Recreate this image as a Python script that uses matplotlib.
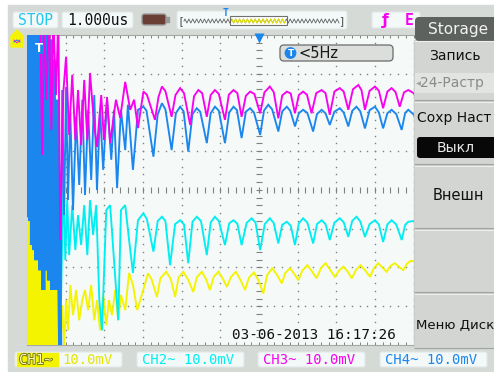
import numpy as np
import matplotlib.pyplot as plt
import matplotlib.patheffects as pe
from matplotlib.patches import Rectangle, FancyBboxPatch, Polygon, Circle

# Scope settings: 1 us/div time base, 10 mV/div on all channels, 12 x 8 divisions
channel_names = ["CH1", "CH2", "CH3", "CH4"]
channel_scale = ["10.0mV", "10.0mV", "10.0mV", "10.0mV"]
timebase = "1.000us"
trigger_freq = "<5Hz"
timestamp = "03-06-2013 16:17:26"

# Captured traces as (time in us, voltage in mV); values outside +-40 mV run off screen
ch1_trace = [
    (-6.00, -7.0), (-5.97, -42), (-5.94, -7.8), (-5.92, -42), (-5.89, -9.0), (-5.87, -42),
    (-5.84, -11.6), (-5.81, -42), (-5.79, -12.9), (-5.76, -42), (-5.74, -14.2), (-5.71, -42),
    (-5.68, -15.5), (-5.66, -42), (-5.63, -18.1), (-5.61, -42), (-5.58, -19.4), (-5.56, -42),
    (-5.50, -20.7), (-5.45, -42), (-5.40, -22.0), (-5.35, -42), (-5.30, -24.5), (-5.25, -42),
    (-5.19, -25.8), (-5.14, -42), (-5.09, -29.7), (-5.04, -40), (-4.99, -28.4), (-4.94, -36.2),
    (-4.88, -24.5), (-4.81, -32.3), (-4.73, -25.8), (-4.65, -33.6), (-4.57, -28.4), (-4.50, -25.8),
    (-4.42, -31.0), (-4.34, -24.5), (-4.26, -33.6), (-4.19, -28.4), (-4.11, -36.2), (-4.03, -27.1),
    (-3.95, -34.9), (-3.88, -28.4), (-3.80, -32.3), (-3.72, -25.8), (-3.64, -33.6), (-3.57, -27.1),
    (-3.46, -31.0), (-3.36, -21.4), (-3.26, -24.5), (-3.15, -31.0), (-3.07, -28.4),
    (-2.87, -21.5), (-2.78, -23.0), (-2.64, -27.6), (-2.55, -22.8), (-2.40, -21.1), (-2.28, -23.0),
    (-2.17, -27.6), (-2.08, -22.6), (-1.96, -21.1), (-1.83, -23.2), (-1.70, -26.3), (-1.61, -22.6),
    (-1.48, -21.1), (-1.37, -23.0), (-1.27, -25.8), (-1.17, -22.4), (-1.05, -21.1), (-0.94, -22.8),
    (-0.83, -25.0), (-0.73, -22.5), (-0.60, -21.1), (-0.48, -23.2), (-0.36, -25.8), (-0.26, -22.6),
    (-0.13, -21.3), (-0.01, -23.4), (0.11, -26.7), (0.21, -22.0), (0.34, -20.2), (0.46, -21.8),
    (0.59, -24.1), (0.68, -21.4), (0.80, -20.2), (0.91, -21.6), (1.02, -23.3), (1.12, -20.8),
    (1.25, -19.4), (1.37, -21.0), (1.49, -22.8), (1.60, -20.2), (1.72, -18.9), (1.84, -20.6),
    (1.96, -22.4), (2.07, -20.8), (2.18, -19.8), (2.29, -21.0), (2.40, -22.8), (2.51, -20.6),
    (2.63, -19.4), (2.75, -20.8), (2.87, -22.4), (2.97, -20.2), (3.08, -18.9), (3.19, -20.0),
    (3.30, -21.1), (3.40, -19.6), (3.51, -18.9), (3.62, -19.8), (3.73, -20.7), (3.83, -19.0),
    (3.92, -18.3), (4.05, -18.5), (4.15, -19.5),
]

ch2_trace = [
    (-5.56, -18.1), (-5.48, -2.6), (-5.43, -23.3), (-5.37, 7.8), (-5.32, -25.8), (-5.27, -2.6),
    (-5.22, -20.7), (-5.17, 1.3), (-5.12, -28.4), (-5.06, 2.6), (-5.01, -18.1), (-4.96, -2.6),
    (-4.91, -16.8), (-4.83, -3.9), (-4.75, -15.5), (-4.68, -6.5), (-4.60, -14.2), (-4.52, -3.9),
    (-4.44, -16.8), (-4.37, -2.6), (-4.29, -11.6), (-4.21, -3.9), (-4.13, -28.4), (-4.06, -36.2),
    (-3.95, -5.2), (-3.85, -3.9), (-3.75, -18.1), (-3.64, -33.6), (-3.57, -5.2), (-3.46, -3.9),
    (-3.36, -12.9), (-3.26, -21.4), (-3.13, -7.8),
    (-2.99, -6.0), (-2.90, -7.5), (-2.73, -15.9), (-2.62, -8.0), (-2.51, -6.9), (-2.42, -8.0),
    (-2.30, -19.4), (-2.17, -8.8), (-2.04, -7.8), (-1.94, -8.9), (-1.83, -18.9), (-1.72, -8.2),
    (-1.61, -6.9), (-1.50, -8.0), (-1.35, -16.8), (-1.25, -8.4), (-1.14, -6.9), (-1.04, -8.0),
    (-0.88, -14.2), (-0.77, -8.6), (-0.66, -7.8), (-0.56, -8.7), (-0.45, -14.2), (-0.32, -8.5),
    (-0.19, -7.3), (-0.09, -8.4), (0.03, -15.5), (0.15, -8.8), (0.28, -7.3), (0.38, -8.5),
    (0.50, -13.8), (0.60, -9.0), (0.72, -8.2), (0.82, -9.2), (0.93, -14.2), (1.03, -8.6),
    (1.14, -7.3), (1.25, -8.4), (1.40, -13.8), (1.50, -8.8), (1.62, -7.8), (1.72, -8.8),
    (1.83, -12.9), (1.95, -8.4), (2.09, -7.3), (2.19, -8.3), (2.31, -12.1), (2.41, -8.0),
    (2.52, -6.9), (2.62, -8.1), (2.74, -12.1), (2.86, -8.8), (3.00, -7.8), (3.10, -8.9),
    (3.21, -13.4), (3.32, -8.9), (3.43, -7.8), (3.55, -8.9), (3.69, -12.9), (3.78, -9.0),
    (3.86, -8.2), (4.00, -8.0), (4.10, -9.5),
]

ch3_trace = [
    (-5.66, 45), (-5.61, 9.0), (-5.56, 45), (-5.50, 23.3), (-5.43, 45), (-5.37, 15.5),
    (-5.32, 45), (-5.25, 24.5), (-5.19, 45), (-5.14, -12.9), (-5.06, 25.3), (-4.99, 34.4),
    (-4.91, 14.2), (-4.83, 29.7), (-4.75, 12.9), (-4.68, 25.8), (-4.60, 11.6), (-4.52, 28.4),
    (-4.44, 12.9), (-4.37, 30.2), (-4.26, 16.3), (-4.19, 11.1), (-4.08, 24.5), (-4.01, 12.9),
    (-3.93, 24.0), (-3.85, 12.1), (-3.70, 23.3), (-3.59, 18.6), (-3.46, 27.9), (-3.33, 20.7),
    (-3.23, 23.3), (-3.13, 16.0),
    (-2.99, 25.4), (-2.90, 24.6), (-2.69, 18.1), (-2.60, 24.0), (-2.51, 26.7), (-2.42, 25.5),
    (-2.26, 18.9), (-2.16, 24.5), (-2.04, 26.3), (-1.94, 25.0), (-1.78, 16.8), (-1.68, 24.2),
    (-1.57, 25.8), (-1.47, 25.0), (-1.35, 18.9), (-1.25, 24.5), (-1.14, 25.8), (-1.04, 24.8),
    (-0.88, 18.1), (-0.78, 24.6), (-0.66, 25.8), (-0.56, 25.0), (-0.45, 18.9), (-0.34, 24.3),
    (-0.23, 25.4), (-0.12, 24.8), (0.03, 19.8), (0.14, 25.2), (0.28, 26.7), (0.38, 25.3),
    (0.50, 18.5), (0.60, 24.4), (0.72, 25.4), (0.82, 24.9), (0.93, 19.8), (1.03, 24.5),
    (1.14, 25.4), (1.24, 24.6), (1.36, 19.8), (1.48, 25.0), (1.62, 25.8), (1.72, 25.0),
    (1.83, 19.4), (1.95, 25.4), (2.09, 26.3), (2.19, 25.4), (2.31, 20.7), (2.43, 26.0),
    (2.57, 27.1), (2.65, 25.8), (2.74, 20.7), (2.86, 25.6), (3.00, 26.7), (3.10, 25.6),
    (3.21, 21.1), (3.32, 25.4), (3.43, 26.3), (3.53, 25.3), (3.64, 21.5), (3.75, 25.2),
    (3.86, 25.8), (4.00, 25.0), (4.10, 23.0),
]

ch4_trace = [
    (-6.00, 45), (-5.97, -7.0), (-5.94, 45), (-5.92, -8.0), (-5.89, 45), (-5.87, -14.2),
    (-5.84, 45), (-5.81, -15.5), (-5.79, 45), (-5.76, -18.1), (-5.74, 45), (-5.71, -16.8),
    (-5.68, 45), (-5.66, -20.7), (-5.63, 45), (-5.58, -25.8), (-5.56, 45), (-5.50, -20.7),
    (-5.48, 45), (-5.43, -23.3), (-5.40, 38.8), (-5.35, -25.8), (-5.32, 33.6), (-5.27, -25.8),
    (-5.22, 23.3), (-5.14, -42), (-5.09, 25.8), (-5.04, -6.5), (-4.99, 26.6), (-4.94, -2.6),
    (-4.88, 19.9), (-4.81, -5.2), (-4.73, 18.9), (-4.65, 1.3), (-4.57, 23.3), (-4.50, -1.3),
    (-4.42, 20.7), (-4.34, 2.6), (-4.26, 24.5), (-4.19, 0.0), (-4.11, 20.7), (-4.03, 5.2),
    (-3.93, 23.3), (-3.82, 7.8), (-3.75, 20.7), (-3.67, 0.5), (-3.57, 20.7), (-3.46, 10.3),
    (-3.39, 22.0), (-3.26, 5.2), (-3.13, 20.7),
    (-2.99, 21.5), (-2.91, 20.5), (-2.73, 8.6), (-2.62, 19.5), (-2.51, 22.4), (-2.42, 20.8),
    (-2.26, 10.3), (-2.15, 19.8), (-2.04, 21.5), (-1.95, 20.3), (-1.83, 9.9), (-1.72, 19.6),
    (-1.61, 21.1), (-1.52, 20.2), (-1.35, 12.1), (-1.25, 19.8), (-1.14, 21.5), (-1.04, 20.5),
    (-0.88, 12.1), (-0.77, 20.0), (-0.66, 21.5), (-0.57, 20.6), (-0.45, 13.4), (-0.34, 20.2),
    (-0.23, 21.1), (-0.13, 20.0), (0.03, 14.2), (0.13, 20.5), (0.24, 22.0), (0.34, 20.8),
    (0.50, 15.1), (0.60, 20.3), (0.72, 21.5), (0.81, 20.4), (0.93, 16.4), (1.03, 19.8),
    (1.14, 20.7), (1.25, 19.9), (1.40, 15.1), (1.50, 19.6), (1.62, 20.7), (1.72, 19.8),
    (1.83, 16.8), (1.95, 20.2), (2.09, 21.1), (2.19, 20.0), (2.31, 16.4), (2.41, 20.4),
    (2.52, 21.5), (2.62, 20.3), (2.74, 15.9), (2.86, 20.6), (3.00, 21.5), (3.10, 20.0),
    (3.21, 15.9), (3.32, 19.8), (3.43, 20.7), (3.55, 19.6), (3.69, 15.5), (3.78, 19.9),
    (3.86, 20.7), (4.00, 19.5), (4.10, 17.0),
]

menu_title = "Storage"
menu_items = ["Запись", "24-Растр", "Сохр Наст", "Выкл", "Внешн", "Меню Диск"]

YELLOW = "#f4f400"
CYAN = "#00eef2"
MAGENTA = "#f800f0"
BLUE = "#1a86ee"
SCREEN_BG = "#d6dad6"
PLOT_BG = "#f5f9f7"
DOT = "#7e817e"
BOX_BG = "#f3f8f8"
MONO = "DejaVu Sans Mono"
SANS = "DejaVu Sans"

W, H = 494, 372


def px_rect(x0, y0, x1, y1):
    return [x0 / W, 1 - y1 / H, (x1 - x0) / W, (y1 - y0) / H]


def box(axis, x0, y0, x1, y1, fc, ec="none", r=2.0, lw=0.8, z=1):
    axis.add_patch(FancyBboxPatch((x0, y0), x1 - x0, y1 - y0,
                                  boxstyle=f"round,pad=0,rounding_size={r}",
                                  fc=fc, ec=ec, lw=lw, zorder=z))


fig = plt.figure(figsize=(W / 100, H / 100), dpi=100)
fig.patch.set_facecolor("white")

# screen background
back = fig.add_axes([0, 0, 1, 1])
back.set_xlim(0, W)
back.set_ylim(H, 0)
back.axis("off")
back.add_patch(Rectangle((8, 5), W - 8, H - 5, color=SCREEN_BG))

# waveform area, 12 x 8 divisions
ax = fig.add_axes(px_rect(27, 35, 491, 345))
ax.set_xlim(-6, 6)
ax.set_ylim(-40, 40)
ax.set_facecolor(PLOT_BG)
for s in ax.spines.values():
    s.set_color("#a4a8a4")
    s.set_linewidth(0.8)
ax.set_xticks(np.arange(-6, 6.01, 0.2))
ax.set_yticks(np.arange(-40, 40.1, 2))
ax.tick_params(direction="in", length=2.2, width=0.7, color=DOT,
               top=True, right=True, labelbottom=False, labelleft=False)

fine_t = np.arange(-6, 6.01, 0.2)
fine_v = np.arange(-40, 40.1, 2)
for t in range(-5, 6):
    if t != 0:
        ax.plot(np.full_like(fine_v, t), fine_v, ls="none", marker="s", ms=1.0,
                mec="none", mfc=DOT, zorder=1)
for v in range(-30, 31, 10):
    if v != 0:
        ax.plot(fine_t, np.full_like(fine_t, v), ls="none", marker="s", ms=1.0,
                mec="none", mfc=DOT, zorder=1)
ax.plot(np.zeros_like(fine_v), fine_v, ls="none", marker="_", ms=4, mew=0.8,
        color=DOT, zorder=1)
ax.plot(fine_t, np.zeros_like(fine_t), ls="none", marker="|", ms=4, mew=0.8,
        color=DOT, zorder=1)

# overdriven start of CH1/CH4 is drawn heavier so the fast swings merge into a block
for trace, color, heavy in [(ch1_trace, YELLOW, True), (ch2_trace, CYAN, False),
                            (ch4_trace, BLUE, True), (ch3_trace, MAGENTA, False)]:
    t, v = map(np.array, zip(*trace))
    ax.plot(t, v, color=color, lw=1.35, solid_joinstyle="miter", zorder=3)
    if heavy:
        head = t <= -5.1
        ax.plot(t[head], v[head], color=color, lw=3.0, solid_joinstyle="miter", zorder=3)

# overlay: status bars, markers and the soft-key menu
ui = fig.add_axes([0, 0, 1, 1])
ui.set_xlim(0, W)
ui.set_ylim(H, 0)
ui.axis("off")
ui.patch.set_alpha(0)

# top status bar
box(ui, 13, 12, 58, 28, BOX_BG, "#e2e8e8")
ui.text(35.5, 20.5, "STOP", color="#22c8ee", fontsize=10.5, family=MONO,
        ha="center", va="center")
box(ui, 62, 12, 133, 28, BOX_BG, "#e2e8e8")
ui.text(97.5, 20.5, timebase, color="#101010", fontsize=10.5, family=MONO,
        ha="center", va="center")
box(ui, 142, 14, 166, 25, "#6b3e35", "#9a9a9a", r=2.5, lw=1)
ui.add_patch(Rectangle((166, 17), 3, 5, color="#9a9a9a"))

box(ui, 177, 11, 347, 29, BOX_BG, "#e2e8e8")
squiggle = np.tile([0.0, -2.0, 0.0, 2.0], 40)
sx = np.linspace(184, 339, squiggle.size)
ui.plot(sx, 21 + squiggle, color="#606060", lw=0.6)
ui.add_patch(Rectangle((230, 16), 57, 9, fc="white", ec="#707070", lw=0.8))
inside = (sx > 231) & (sx < 286)
ui.plot(sx[inside], 21 + squiggle[inside], color="#e6e600", lw=0.8)
ui.text(181, 21, "[", color="#505050", fontsize=8, family=MONO, ha="center", va="center")
ui.text(342, 21, "]", color="#505050", fontsize=8, family=MONO, ha="center", va="center")
ui.text(226, 12.5, "T", color=BLUE, fontsize=7, family=MONO, weight="bold",
        ha="center", va="center")

box(ui, 372, 12, 420, 28, BOX_BG, "#e2e8e8")
ui.text(385, 20.5, "ƒ", color=MAGENTA, fontsize=11, family=SANS, weight="bold",
        ha="center", va="center")
ui.text(409, 20.5, "E", color=MAGENTA, fontsize=10.5, family=MONO, weight="bold",
        ha="center", va="center")

# channel 1 offset marker and trigger markers
ui.add_patch(Polygon([(11, 47), (11, 36), (17, 30), (23, 36), (23, 47)], closed=True,
                     color=YELLOW))
ui.plot([14, 17, 20], [42, 40, 42], color=BLUE, lw=0.8)
ui.plot([14, 17, 20], [40, 43, 40], color=MAGENTA, lw=0.6)
ui.plot(259, 37.5, marker="v", ms=7, color=BLUE, mec="none")
box(ui, 33, 43, 44, 54, BLUE, r=1.5)
ui.text(38.5, 48.5, "T", color="white", fontsize=8.5, family=SANS, weight="bold",
        ha="center", va="center")

box(ui, 280, 45, 393, 61, "#dcdedc", "#6a6c6a", r=4, lw=0.9)
ui.add_patch(Circle((290.5, 53), 5.2, color=BLUE))
ui.text(290.5, 53.3, "T", color="white", fontsize=6.5, family=SANS, weight="bold",
        ha="center", va="center")
ui.text(298, 53.5, trigger_freq, color="#181818", fontsize=10.5, family=SANS,
        ha="left", va="center")

ui.text(232, 335, timestamp, color="#101010", fontsize=10.3, family=MONO,
        ha="left", va="center")

# soft-key menu
ui.add_patch(Rectangle((414, 40), 80, 308, color="#c9ccc9"))
box(ui, 415, 17, 500, 41, "#5e625e", r=4)
ui.text(458, 29.5, menu_title, color="#f2f2f2", fontsize=11, family=SANS,
        ha="center", va="center")
for y0, y1 in [(41, 100), (102, 164), (166, 228), (230, 292), (294, 348)]:
    ui.add_patch(Rectangle((415, y0), 79, y1 - y0, fc="#d2d5d2", ec="none"))
    ui.plot([415, 494], [y0, y0], color="#eef0ee", lw=0.8)
    ui.plot([415, 494], [y1, y1], color="#a0a4a0", lw=0.8)
ui.add_patch(Rectangle((415, 73), 79, 20, fc="#e2e4e2", ec="none"))
ui.text(455, 56, menu_items[0], color="#101010", fontsize=10, family=SANS,
        ha="center", va="center")
ui.plot(417.5, 83, marker="<", ms=3.5, color="#a0a0a0", mec="none")
ui.text(420, 83, menu_items[1], color="#8a8a8a", fontsize=10, family=SANS,
        ha="left", va="center")
ui.text(417, 118, menu_items[2], color="#101010", fontsize=10, family=SANS,
        ha="left", va="center")
box(ui, 417, 137, 500, 158, "#080808", r=3)
ui.text(456, 147.5, menu_items[3], color="#e8e8e8", fontsize=10, family=SANS,
        ha="center", va="center")
ui.text(458, 195, menu_items[4], color="#101010", fontsize=10.5, family=SANS,
        ha="center", va="center")
ui.text(416, 325, menu_items[5], color="#101010", fontsize=9.5, family=SANS,
        ha="left", va="center")

# channel scale boxes along the bottom
chan_colors = [YELLOW, CYAN, MAGENTA, BLUE]
chan_x = [15, 137, 258, 380]
for name, scale, color, x0 in zip(channel_names, channel_scale, chan_colors, chan_x):
    box(ui, x0, 352, x0 + 107, 367, BOX_BG, "#e2e8e8")
    if name == "CH1":
        ui.add_patch(Rectangle((x0 + 2, 353), 41, 13, color=color))
        ui.text(x0 + 4, 360, name + "~", color="#fbfbb0", fontsize=10, family=MONO,
                ha="left", va="center",
                path_effects=[pe.withStroke(linewidth=1.2, foreground="#6a6a10")])
        ui.text(x0 + 47, 360, scale, color="#e6e600", fontsize=10, family=MONO,
                ha="left", va="center")
    else:
        ui.text(x0 + 5, 360, name + "~ " + scale, color=color, fontsize=10,
                family=MONO, ha="left", va="center")

fig.savefig("out.png", dpi=100, facecolor=fig.get_facecolor())
